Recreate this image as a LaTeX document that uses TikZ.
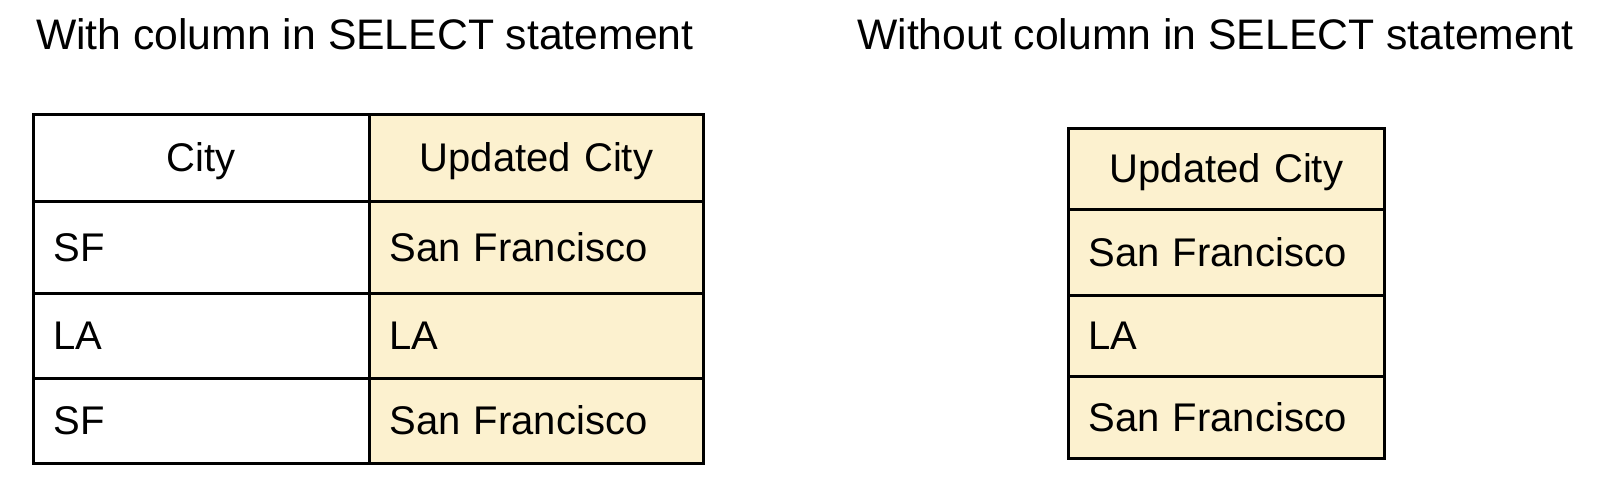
\documentclass[tikz,border=0pt]{standalone}
\usepackage{fontspec}
\setmainfont{Liberation Sans}
\usepackage{xcolor}
\usetikzlibrary{positioning}
\definecolor{cellyellow}{RGB}{252,241,207}

\tikzset{
  title/.style={anchor=base west, inner sep=0pt, font=\fontsize{42.7}{46}\selectfont},
  cell/.style={draw=black, line width=2.8pt, anchor=north west, inner ysep=0pt,
    text height=28pt, text depth=0pt, font=\fontsize{40}{44}\selectfont},
  leftcell/.style={cell, inner xsep=20pt, align=left},
  headcell/.style={cell, inner xsep=0pt, align=center},
  newcell/.style={fill=cellyellow}
}

\begin{document}
\begin{tikzpicture}[x=1pt, y=-1pt]
    % Frame
    \useasboundingbox (0,0) rectangle (1600,487);

    % Titles
    \node[title] (titlewith) at (36,49) {With column in SELECT statement};
    \node[title] (titlewithout) at (857,49) {Without column in SELECT statement};

    % Left table header
    \node[headcell, text width=336pt, minimum height=87] (cityhead) at (32,113) {City};
    \node[headcell, newcell, text width=334pt, minimum height=87] (updhead) at (368,113) {Updated City};

    % Left table rows
    \foreach \n/\y/\h/\a/\b in {1/200/92/SF/San Francisco, 2/292/85/LA/LA, 3/377/85/SF/San Francisco} {
        \node[leftcell, text width=296pt, minimum height=\h] (city\n) at (32,\y) {\a};
        \node[leftcell, newcell, text width=294pt, minimum height=\h] (upd\n) at (368,\y) {\b};
    }

    % Right table
    \node[headcell, newcell, text width=316pt, minimum height=81] (onlyhead) at (1067,127) {Updated City};
    \foreach \n/\y/\h/\b in {1/208/86/San Francisco, 2/294/81/LA, 3/375/82/San Francisco} {
        \node[leftcell, newcell, text width=276pt, minimum height=\h] (only\n) at (1067,\y) {\b};
    }
\end{tikzpicture}
\end{document}
